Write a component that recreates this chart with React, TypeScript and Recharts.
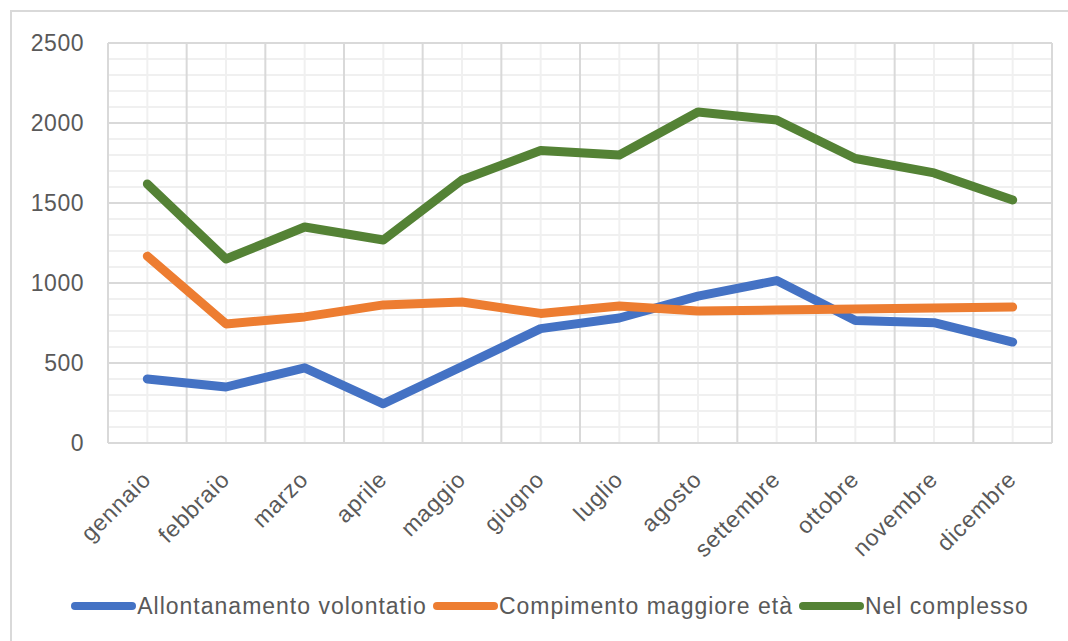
import { LineChart, Line, XAxis, YAxis, CartesianGrid, Legend } from "recharts";

const months = [
  "gennaio",
  "febbraio",
  "marzo",
  "aprile",
  "maggio",
  "giugno",
  "luglio",
  "agosto",
  "settembre",
  "ottobre",
  "novembre",
  "dicembre",
];

const allontanamento = [400, 350, 470, 245, 478, 715, 781, 918, 1015, 765, 752, 631];
const compimento = [1168, 744, 788, 863, 881, 810, 856, 825, 831, 838, 843, 850];
const complesso = [1619, 1150, 1350, 1269, 1644, 1828, 1800, 2069, 2019, 1778, 1688, 1519];

const majorTicks = [0, 500, 1000, 1500, 2000, 2500];
const minorTicks = [
  0, 100, 200, 300, 400, 500, 600, 700, 800, 900, 1000, 1100, 1200, 1300, 1400,
  1500, 1600, 1700, 1800, 1900, 2000, 2100, 2200, 2300, 2400, 2500,
];
const yMax = 2500;

const seriesList = [
  { key: "allontanamento", name: "Allontanamento volontatio", color: "#4472C4" },
  { key: "compimento", name: "Compimento maggiore età", color: "#ED7D31" },
  { key: "complesso", name: "Nel complesso", color: "#548235" },
];

const data = months.map((m, i) => ({
  month: m,
  allontanamento: allontanamento[i],
  compimento: compimento[i],
  complesso: complesso[i],
}));

const FONT = "'Liberation Sans', Arial, sans-serif";
const TEXT = "#595959";

// minor horizontal lines every 100
const minorRows = ({ yAxis, offset }: any) => {
  const sc = yAxis && yAxis.scale;
  if (typeof sc === "function") {
    return minorTicks.map((v) => sc(v));
  }
  return minorTicks.map((v) => offset.top + offset.height * (1 - v / yMax));
};

// vertical lines on the category boundaries
const boundaryCols = ({ offset }: any) => {
  const n = months.length;
  return [...months.map((_, i) => offset.left + (offset.width * i) / n), offset.left + offset.width];
};

function MonthTick({ x, y, payload }: any) {
  const tx = x + 5;
  const ty = y + 30;
  return (
    <text
      x={tx}
      y={ty}
      transform={`rotate(-45 ${tx} ${ty})`}
      textAnchor="end"
      fill={TEXT}
      fontSize={23}
      letterSpacing={0.8}
      fontFamily={FONT}
    >
      {payload.value}
    </text>
  );
}

function LegendBox() {
  return (
    <div
      style={{
        display: "flex",
        justifyContent: "center",
        alignItems: "center",
        height: 28,
        fontFamily: FONT,
        fontSize: 23,
        letterSpacing: 1,
        color: TEXT,
      }}
    >
      {seriesList.map((s) => (
        <div key={s.key} style={{ display: "flex", alignItems: "center", marginRight: 5 }}>
          <svg width={67} height={12}>
            <line x1={5} y1={6} x2={62} y2={6} stroke={s.color} strokeWidth={8} strokeLinecap="round" />
          </svg>
          <span>{s.name}</span>
        </div>
      ))}
    </div>
  );
}

export default function App() {
  return (
    <div style={{ position: "absolute", left: 0, top: 0, width: 1068, height: 641, background: "#fff" }}>
      <div
        style={{
          position: "absolute",
          left: 10,
          top: 10,
          right: 0,
          bottom: 0,
          borderTop: "2px solid #d9d9d9",
          borderLeft: "2px solid #d9d9d9",
        }}
      />
      <div style={{ position: "absolute", left: 0, top: 0 }}>
        <LineChart width={1068} height={641} data={data} margin={{ top: 43, right: 16, bottom: 110, left: 48 }}>
          <CartesianGrid horizontal={true} vertical={false} stroke="#f0f0f0" strokeWidth={2} horizontalCoordinatesGenerator={minorRows} />
          <CartesianGrid horizontal={false} vertical={true} stroke="#f0f0f0" strokeWidth={2} />
          <CartesianGrid horizontal={false} vertical={true} stroke="#d9d9d9" strokeWidth={2} verticalCoordinatesGenerator={boundaryCols} />
          <CartesianGrid horizontal={true} vertical={false} stroke="#d9d9d9" strokeWidth={2} />
          <XAxis
            dataKey="month"
            scale="band"
            axisLine={false}
            tickLine={false}
            interval={0}
            height={60}
            tick={<MonthTick />}
          />
          <YAxis
            domain={[0, yMax]}
            ticks={majorTicks}
            width={60}
            axisLine={false}
            tickLine={false}
            tickSize={0}
            tickMargin={24}
            tick={{ fill: TEXT, fontSize: 23, letterSpacing: 0.5, fontFamily: FONT }}
          />
          {seriesList.map((s) => (
            <Line
              key={s.key}
              dataKey={s.key}
              name={s.name}
              stroke={s.color}
              strokeWidth={9}
              strokeLinecap="round"
              strokeLinejoin="round"
              dot={false}
              activeDot={false}
              isAnimationActive={false}
            />
          ))}
          <Legend content={<LegendBox />} wrapperStyle={{ top: 592, left: 18, width: 1068 }} />
        </LineChart>
      </div>
    </div>
  );
}
